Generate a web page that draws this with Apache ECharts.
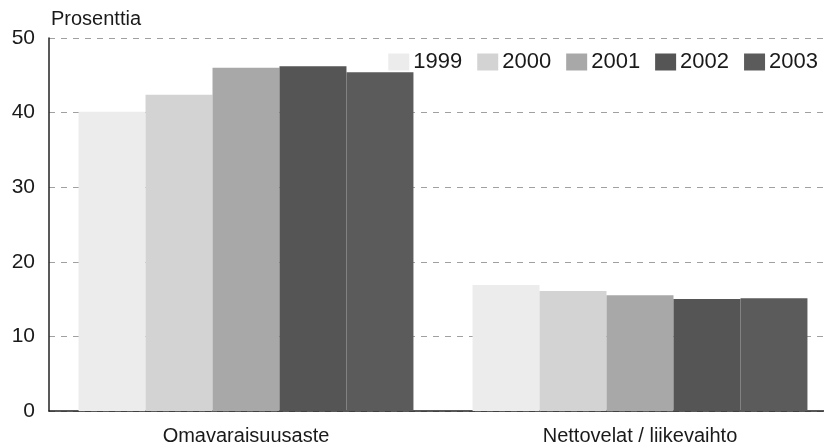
<!DOCTYPE html>
<html>
<head>
<meta charset="utf-8">
<script src="https://cdn.jsdelivr.net/npm/echarts@6/dist/echarts.min.js"></script>
<style>
  html, body { margin: 0; padding: 0; background: #fff; }
  #chart { width: 824px; height: 448px; }
</style>
</head>
<body>
<div id="chart"></div>
<script>
const categories = ['Omavaraisuusaste', 'Nettovelat / liikevaihto']
const years = ['1999', '2000', '2001', '2002', '2003']
const v1999 = [40.1, 16.9]
const v2000 = [42.4, 16.1]
const v2001 = [46.0, 15.5]
const v2002 = [46.2, 15.0]
const v2003 = [45.4, 15.1]
const yTicks = [0, 10, 20, 30, 40, 50]

const colors = ['#ececec', '#d3d3d3', '#a8a8a8', '#555555', '#5b5b5b']
const values = [v1999, v2000, v2001, v2002, v2003]

const chart = echarts.init(document.getElementById('chart'))
const font = 'Liberation Sans, Arial, sans-serif'

chart.setOption({
  animation: false,
  textStyle: { fontFamily: font },
  color: colors,
  title: {
    text: 'Prosenttia',
    left: 51, top: 9, padding: 0,
    textStyle: { fontSize: 20, fontWeight: 'normal', color: '#1a1a1a', fontFamily: font }
  },
  legend: {
    top: 51, right: 6, padding: 0,
    itemWidth: 21, itemHeight: 17, itemGap: 15,
    icon: 'rect',
    textStyle: { fontSize: 22, color: '#1a1a1a', padding: [0, 0, 0, -1] },
    data: years
  },
  grid: {
    left: 49, width: 788, top: 38, bottom: 37,
    containLabel: false, outerBoundsMode: 'none'
  },
  xAxis: {
    type: 'category',
    data: categories,
    axisLine: { lineStyle: { color: '#222', width: 1.5 } },
    axisTick: { show: false },
    axisLabel: { fontSize: 20, color: '#1a1a1a', margin: 15 }
  },
  yAxis: {
    type: 'value',
    min: yTicks[0], max: yTicks[yTicks.length - 1], interval: 10,
    axisLine: { show: true, lineStyle: { color: '#222', width: 1.5 } },
    axisTick: { show: false },
    axisLabel: { fontSize: 21, color: '#1a1a1a', margin: 14 },
    splitLine: { lineStyle: { type: [6, 6], color: '#a0a0a0' } }
  },
  series: years.map((y, i) => ({
    name: y,
    type: 'bar',
    data: values[i],
    barGap: '0%',
    barCategoryGap: '15%'
  }))
})
</script>
</body>
</html>
